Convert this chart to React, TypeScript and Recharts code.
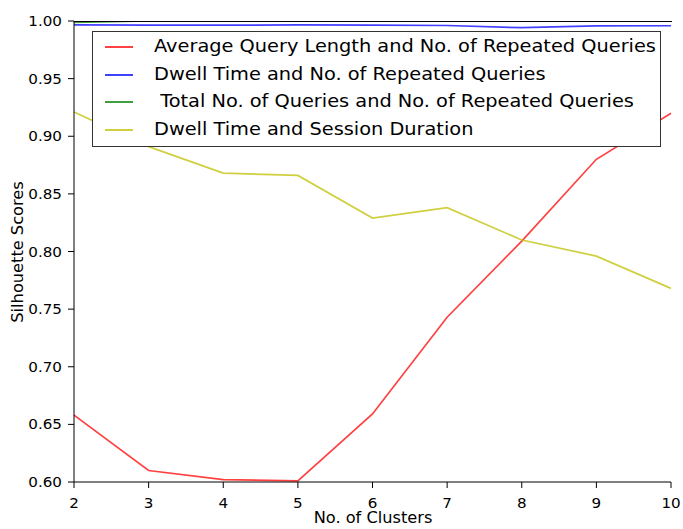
import React from 'react';
import { LineChart, Line, XAxis, YAxis } from 'recharts';

const clusters = [2, 3, 4, 5, 6, 7, 8, 9, 10];
const avgQueryLen = [0.658, 0.610, 0.602, 0.601, 0.659, 0.743, 0.809, 0.880, 0.920];
const dwellRepeated = [0.9966, 0.9965, 0.9964, 0.9966, 0.9965, 0.9961, 0.9942, 0.9957, 0.9959];
const totalRepeated = [0.9987, 1.0, 1.0, 1.0, 1.0, 1.0, 1.0, 1.0, 1.0];
const dwellSession = [0.921, 0.891, 0.868, 0.866, 0.829, 0.838, 0.810, 0.796, 0.768];
const yTicks = [0.6, 0.65, 0.7, 0.75, 0.8, 0.85, 0.9, 0.95, 1.0];

const seriesNames = [
  'Average Query Length and No. of Repeated Queries',
  'Dwell Time and No. of Repeated Queries',
  ' Total No. of Queries and No. of Repeated Queries',
  'Dwell Time and Session Duration',
];
const seriesColors = ['#ff0000', '#0000ff', '#008000', '#bfbf00'];
const ALPHA = 0.75;

const data = clusters.map((c, i) => ({
  k: c,
  s0: avgQueryLen[i],
  s1: dwellRepeated[i],
  s2: totalRepeated[i],
  s3: dwellSession[i],
}));

const FONT = 'DejaVu Sans';
const TICK_LEN = 6;
const SX = 1.08;

const LeftTick = (props: any) => {
  const { x, y, payload } = props;
  return (
    <g>
      <line x1={x} y1={y} x2={x + TICK_LEN} y2={y} stroke="#000" strokeWidth={1} />
      <text transform={`translate(${x - 6},${y + 5}) scale(${SX},1)`} textAnchor="end" fontFamily={FONT} fontSize={14} fill="#000">
        {Number(payload.value).toFixed(2)}
      </text>
    </g>
  );
};
const RightTick = (props: any) => {
  const { x, y } = props;
  return <line x1={x} y1={y} x2={x - TICK_LEN} y2={y} stroke="#000" strokeWidth={1} />;
};
const BottomTick = (props: any) => {
  const { x, y, payload } = props;
  return (
    <g>
      <line x1={x} y1={y} x2={x} y2={y - TICK_LEN} stroke="#000" strokeWidth={1} />
      <text transform={`translate(${x},${y + 20}) scale(${SX},1)`} textAnchor="middle" fontFamily={FONT} fontSize={14} fill="#000">
        {payload.value}
      </text>
    </g>
  );
};
const TopTick = (props: any) => {
  const { x, y } = props;
  return <line x1={x} y1={y} x2={x} y2={y + TICK_LEN} stroke="#000" strokeWidth={1} />;
};

const LegendBox = () => (
  <div
    style={{
      position: 'absolute',
      left: 92,
      top: 31,
      width: 569,
      height: 116,
      border: '1.5px solid #333',
      background: '#fff',
      padding: '1px 0 0 11.5px',
      fontFamily: FONT,
      fontSize: 17.5,
      lineHeight: '27.7px',
      boxSizing: 'border-box',
    }}
  >
    {seriesNames.map((n, i) => (
      <div key={i} style={{ display: 'flex', alignItems: 'center', whiteSpace: 'pre', height: 27.7 }}>
        <span style={{ display: 'inline-block', width: 28, height: 2, background: seriesColors[i], marginRight: 21, opacity: ALPHA }} />
        <span style={{ display: 'inline-block', transform: 'scaleX(1.105)', transformOrigin: 'left center' }}>{n}</span>
      </div>
    ))}
  </div>
);

export default function App() {
  return (
    <div style={{ position: 'absolute', left: 0, top: 0, width: 683, height: 529, background: '#fff' }}>
      <LineChart width={683} height={529} data={data} margin={{ top: 21, right: 12, bottom: 0, left: 0 }}>
        <XAxis
          xAxisId="b"
          dataKey="k"
          type="number"
          domain={[2, 10]}
          ticks={clusters}
          height={47}
          tickLine={false}
          axisLine={{ stroke: '#000', strokeWidth: 1 }}
          tick={<BottomTick />}
          tickMargin={0}
        />
        <XAxis
          xAxisId="t"
          dataKey="k"
          type="number"
          orientation="top"
          domain={[2, 10]}
          ticks={clusters}
          height={0}
          tickLine={false}
          axisLine={{ stroke: '#000', strokeWidth: 1 }}
          tick={<TopTick />}
          tickMargin={0}
        />
        <YAxis
          yAxisId="l"
          type="number"
          domain={[0.6, 1.0]}
          ticks={yTicks}
          width={74}
          tickLine={false}
          axisLine={{ stroke: '#000', strokeWidth: 1 }}
          tick={<LeftTick />}
          tickMargin={0}
          allowDataOverflow
        />
        <YAxis
          yAxisId="r"
          orientation="right"
          type="number"
          domain={[0.6, 1.0]}
          ticks={yTicks}
          width={0}
          tickLine={false}
          axisLine={{ stroke: '#000', strokeWidth: 1 }}
          tick={<RightTick />}
          tickMargin={0}
          allowDataOverflow
        />
        {['s0', 's1', 's2', 's3'].map((k, i) => (
          <Line
            key={k}
            xAxisId="b"
            yAxisId="l"
            dataKey={k}
            name={seriesNames[i]}
            stroke={seriesColors[i]}
            strokeOpacity={ALPHA}
            strokeWidth={1.7}
            dot={false}
            activeDot={false}
            isAnimationActive={false}
          />
        ))}
        <text transform={`translate(373,523) scale(${SX},1)`} textAnchor="middle" fontFamily={FONT} fontSize={15} fill="#000">
          No. of Clusters
        </text>
        <text transform="translate(23,252) rotate(-90) scale(1.08,1)" textAnchor="middle" fontFamily={FONT} fontSize={15} fill="#000">
          Silhouette Scores
        </text>
      </LineChart>
      <div style={{ position: 'absolute', left: 74, top: 20.5, width: 597.5, height: 1.3, background: '#000' }} />
      <LegendBox />
    </div>
  );
}
